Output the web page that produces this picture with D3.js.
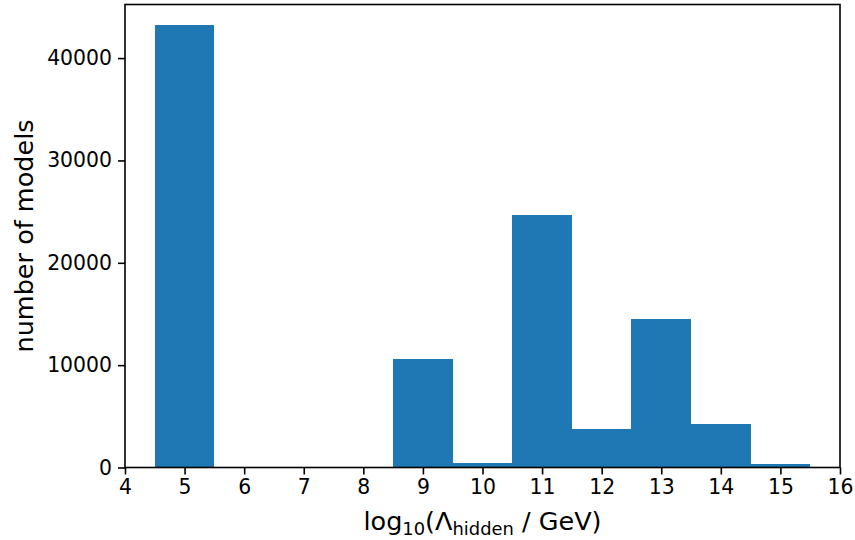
<!DOCTYPE html>
<html><head><meta charset="utf-8">
<script src="https://cdn.jsdelivr.net/npm/d3@7"></script>
<style>body{margin:0;background:#fff}svg{display:block}text{font-family:"DejaVu Sans",sans-serif}</style>
</head><body>
<script>
const binCenters = [5, 6, 7, 8, 9, 10, 11, 12, 13, 14, 15];
const counts = [43200, 0, 60, 20, 10600, 440, 24700, 3770, 14530, 4260, 340];
const xTicks = [4, 5, 6, 7, 8, 9, 10, 11, 12, 13, 14, 15, 16];
const yTicks = [0, 10000, 20000, 30000, 40000];

const W = 855, H = 540;
const m = {left: 125, right: 15, top: 4.5, bottom: 72.5};
const svg = d3.select("body").append("svg").attr("width", W).attr("height", H);
const x = d3.scaleLinear().domain([4, 16]).range([m.left, W - m.right]);
const y = d3.scaleLinear().domain([0, 45236]).range([H - m.bottom, m.top]);

svg.append("g").attr("shape-rendering", "crispEdges").selectAll("rect").data(binCenters).join("rect")
  .attr("x", (d) => x(d - 0.5))
  .attr("width", (d) => x(d + 0.5) - x(d - 0.5))
  .attr("y", (d, i) => y(counts[i]))
  .attr("height", (d, i) => y(0) - y(counts[i]))
  .attr("fill", "#1f77b4");

const xa = svg.append("g").attr("transform", `translate(0,${H - m.bottom})`)
  .call(d3.axisBottom(x).tickValues(xTicks).tickFormat(d3.format("d")).tickSizeOuter(0).tickSize(7).tickPadding(5));
const ya = svg.append("g").attr("transform", `translate(${m.left},0)`)
  .call(d3.axisLeft(y).tickValues(yTicks).tickFormat(d3.format("d")).tickSizeOuter(0).tickSize(7).tickPadding(6));
[xa, ya].forEach(a => {
  a.select(".domain").remove();
  a.selectAll("line").attr("stroke", "#000").attr("stroke-width", 1.6);
  a.selectAll("text").attr("font-size", 20.4).attr("fill", "#000").attr("font-family", "DejaVu Sans");
});

svg.append("rect").attr("x", m.left).attr("y", m.top)
  .attr("width", W - m.right - m.left).attr("height", H - m.bottom - m.top)
  .attr("fill", "none").attr("stroke", "#000").attr("stroke-width", 1.6);

const xl = svg.append("text").attr("x", (m.left + W - m.right) / 2).attr("y", 530)
  .attr("text-anchor", "middle").attr("font-size", 25.5).attr("fill", "#000");
xl.append("tspan").text("log");
xl.append("tspan").attr("font-size", 17.9).attr("dy", 5).text("10");
xl.append("tspan").attr("dy", -5).text("(Λ");
xl.append("tspan").attr("font-size", 17.9).attr("dy", 5).text("hidden");
xl.append("tspan").attr("dy", -5).text(" / GeV)");

svg.append("text").attr("transform", `translate(33,${(m.top + H - m.bottom) / 2}) rotate(-90)`)
  .attr("text-anchor", "middle").attr("font-size", 25.5).attr("fill", "#000").text("number of models");
</script>
</body></html>
